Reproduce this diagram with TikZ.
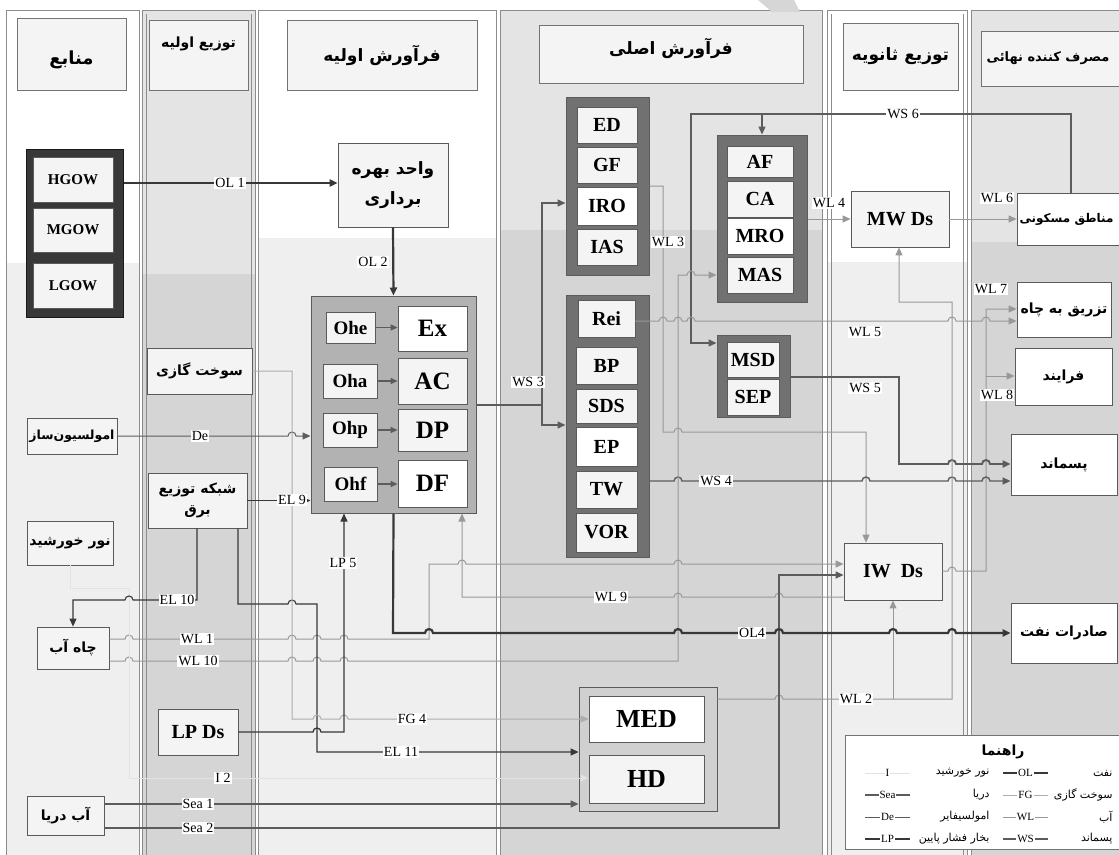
\documentclass[tikz,border=0pt]{standalone}
\usepackage{fontspec}
\setmainfont{Liberation Serif}
\newfontfamily\fafont[Script=Arabic]{DejaVu Sans}
\TeXXeTstate=1
\usepackage{tikz}
\usetikzlibrary{arrows.meta}
\definecolor{bglight}{HTML}{EFEFEF}
\definecolor{bgmid}{HTML}{E4E4E4}
\definecolor{bgdark}{HTML}{D5D5D5}
\definecolor{laneline}{HTML}{8C8C8C}
\definecolor{boxfill}{HTML}{F4F4F4}
\definecolor{boxline}{HTML}{5A5A5A}
\definecolor{grpfill}{HTML}{717171}
\definecolor{contfill}{HTML}{B2B2B2}
\definecolor{medfill}{HTML}{D0D0D0}
\definecolor{inkdark}{HTML}{383838}
\definecolor{inkmid}{HTML}{5C5C5C}
\definecolor{inkgray}{HTML}{989898}
\definecolor{inklight}{HTML}{ADADAD}
\definecolor{inkfaint}{HTML}{E2E2E2}
\newcommand{\fa}[1]{{\fafont\beginR #1\endR}}
\newcommand{\fsz}[1]{\fontsize{#1}{#1}\selectfont}
\newcommand{\hop}[2]{-- (#1-4,#2) arc[start angle=180,end angle=0,radius=4pt]}
\newcommand{\hopl}[2]{-- (#1+4,#2) arc[start angle=0,end angle=180,radius=4pt]}
\tikzset{
  box/.style={draw=boxline,fill=boxfill,line width=.8pt,inner sep=0pt,align=center},
  hdr/.style={draw=black!55,fill=boxfill,line width=.8pt,inner sep=0pt},
  grp/.style={draw=inkmid,fill=grpfill,line width=1pt,inner sep=0pt},
  sz/.style 2 args={minimum width=#1pt,minimum height=#2pt},
  lat/.style={font=\bfseries\fsz{20}},
  fab/.style={font=\bfseries\fontsize{14}{21}\selectfont},
  lbl/.style={fill=white,inner sep=1pt,font=\fsz{14}},
  legs/.style={fill=white,inner sep=1pt,font=\fsz{11}},
  tip/.style={-{Triangle[length=8pt,width=7pt]}},
  ol/.style={draw=inkdark,line width=2.2pt},
  ws/.style={draw=inkmid,line width=1.4pt},
  wsb/.style={draw=inkmid,line width=1.9pt},
  wl/.style={draw=inkgray,line width=1pt},
  fg/.style={draw=inklight,line width=1pt},
  el/.style={draw=inkdark,line width=1.1pt},
  de/.style={draw=inkmid,line width=1pt},
  sea/.style={draw=inkmid,line width=1.3pt},
  li/.style={draw=inkfaint,line width=1pt},
  lp/.style={draw=inkdark,line width=1.3pt}
}
\begin{document}
\begin{tikzpicture}[x=1pt,y=-1pt]
\useasboundingbox (0,0) rectangle (1119,854);
\clip (0,0) rectangle (1119,854);
% swim lanes
\foreach \xa/\xb/\ys/\ct/\cb in {6/139/263/white/bglight,142/255/274/bgmid/bgdark,258/496/238/white/bglight,500/822/230/bgmid/bgdark,827/967/262/white/bglight,971/1130/242/bgmid/bgdark}{
  \fill[\ct] (\xa,10) rectangle (\xb,\ys);
  \fill[\cb] (\xa,\ys) rectangle (\xb,870);
  \draw[laneline,line width=.8pt] (\xa,10) rectangle (\xb,870);
}
\draw[laneline,line width=.6pt] (146,14) -- (146,870) (251,14) -- (251,870) (831,14) -- (831,870) (963,14) -- (963,870);
\fill[black!16] (758,0) -- (794,0) -- (800,12) -- (772,12) -- cycle;
% headers
\node[hdr,sz={109}{72}] (hsrc) at (71.5,54) {};
\node[font=\bfseries\fsz{18}] (hsrct) at (71.5,60) {\fa{منابع}};
\node[hdr,sz={99}{70}] (hpri) at (198.5,55) {};
\node[font=\bfseries\fsz{14}] (hprit) at (198.5,44) {\fa{توزیع اولیه}};
\node[hdr,sz={190}{70},font=\bfseries\fsz{17}] (hpro) at (382,55) {\fa{فرآورش اولیه}};
\node[hdr,sz={264}{58}] (hmain) at (671,54) {};
\node[font=\bfseries\fsz{17}] (hmaint) at (671,48) {\fa{فرآورش اصلی}};
\node[hdr,sz={115}{67},font=\bfseries\fsz{17}] (hsec) at (900.5,56.5) {\fa{توزیع ثانویه}};
\node[hdr,sz={144}{55}] (hend) at (1053,58.5) {};
\node[font=\bfseries\fsz{13},anchor=east] (hendt) at (1113,58.5) {\fa{مصرف کننده نهائی}};
% lane 1
\node[draw=black!90,fill=black!78,line width=1pt,sz={97}{168}] (gow) at (74.5,233) {};
\node[box,sz={80}{45},font=\bfseries\fsz{15}] (hgow) at (73,179.5) {HGOW};
\node[box,sz={80}{44},font=\bfseries\fsz{15}] (mgow) at (73,230) {MGOW};
\node[box,sz={80}{45},font=\bfseries\fsz{15}] (lgow) at (73,285.5) {LGOW};
\node[box,sz={90}{36},font=\bfseries\fsz{12.5}] (emul) at (72,436) {\fa{امولسیون‌ساز}};
\node[box,sz={86}{44},fab] (sun) at (70,543) {\fa{نور خورشید}};
\node[box,sz={72}{42},fab] (well) at (73,648) {\fa{چاه آب}};
\node[box,sz={77}{39},fab] (sea) at (65.5,815.5) {\fa{آب دریا}};
% lane 2
\node[box,sz={105}{46},fab] (fuel) at (199.5,371) {\fa{سوخت گازی}};
\node[box,sz={99}{55},fab] (grid) at (197.5,500.5) {\fa{شبکه توزیع}\\\fa{برق}};
\node[box,sz={80}{46},lat] (lpds) at (198,732) {LP Ds};
% lane 3
\node[box,sz={110}{84},font=\bfseries\fontsize{17}{30}\selectfont] (unit) at (393,185) {\fa{واحد بهره}\\\fa{برداری}};
\node[draw=boxline,fill=contfill,line width=1pt,sz={165}{217}] (cont) at (393.5,404.5) {};
\node[box,sz={49}{31},font=\bfseries\fsz{19}] (ohe) at (350.5,327.5) {Ohe};
\node[box,sz={54}{34},font=\bfseries\fsz{19}] (oha) at (350,381) {Oha};
\node[box,sz={54}{34},font=\bfseries\fsz{19}] (ohp) at (350,430) {Ohp};
\node[box,sz={53}{34},font=\bfseries\fsz{19}] (ohf) at (350.5,484) {Ohf};
\node[box,fill=white,sz={69}{45},font=\bfseries\fsz{25}] (ex) at (432.5,328.5) {Ex};
\node[box,sz={69}{46},font=\bfseries\fsz{25}] (ac) at (432.5,381) {AC};
\node[box,sz={69}{42},font=\bfseries\fsz{25}] (dp) at (432.5,430) {DP};
\node[box,fill=white,sz={69}{47},font=\bfseries\fsz{25}] (df) at (432.5,483.5) {DF};
% lane 4
\node[grp,sz={83}{178}] (gone) at (607.5,186) {};
\node[box,sz={60}{36},lat] (ed) at (607,125) {ED};
\node[box,sz={60}{36},lat] (gf) at (607,165) {GF};
\node[box,fill=white,sz={60}{38},lat] (iro) at (607,206) {IRO};
\node[box,sz={60}{36},lat] (ias) at (607,247) {IAS};
\node[grp,sz={90}{167}] (gtwo) at (762,218.5) {};
\node[box,sz={66}{31},lat] (af) at (760,161.5) {AF};
\node[box,sz={66}{36},lat] (ca) at (760,199) {CA};
\node[box,fill=white,sz={66}{36},lat] (mro) at (760,236) {MRO};
\node[box,sz={66}{36},lat] (mas) at (760,275) {MAS};
\node[grp,sz={83}{262}] (gthr) at (607.5,426) {};
\node[box,sz={57}{37},lat] (rei) at (606.5,318.5) {Rei};
\node[box,sz={61}{37},lat] (bp) at (606.5,365.5) {BP};
\node[box,sz={61}{34},lat] (sds) at (606.5,406) {SDS};
\node[box,fill=white,sz={61}{39},lat] (ep) at (606.5,446.5) {EP};
\node[box,sz={61}{37},lat] (tw) at (606.5,489.5) {TW};
\node[box,sz={61}{39},lat] (vor) at (606.5,532.5) {VOR};
\node[grp,sz={73}{82}] (gfour) at (753.5,376) {};
\node[box,sz={52}{35},lat] (msd) at (753,359.5) {MSD};
\node[box,sz={52}{36},lat] (sep) at (753,397) {SEP};
\node[draw=boxline,fill=medfill,line width=.8pt,sz={138}{124}] (medc) at (648,749) {};
\node[box,fill=white,sz={115}{46},font=\bfseries\fsz{26}] (med) at (646.5,719) {MED};
\node[box,sz={115}{48},font=\bfseries\fsz{26}] (hd) at (646.5,779) {HD};
% lane 5
\node[box,sz={98}{56},lat] (mwds) at (900,219) {MW Ds};
\node[box,sz={98}{57},lat] (iwds) at (893,571.5) {IW~ Ds};
% lane 6
\node[box,fill=white,sz={113}{52}] (res) at (1073.5,219) {};
\node[font=\bfseries\fsz{12},anchor=east] (rest) at (1117,219) {\fa{مناطق مسکونی}};
\node[box,fill=white,sz={94}{55},fab] (inj) at (1064,309.5) {\fa{تزریق به چاه}};
\node[box,fill=white,sz={97}{57},fab] (proc) at (1063.5,376.5) {\fa{فرایند}};
\node[box,fill=white,sz={106}{61},fab] (waste) at (1064,464.5) {\fa{پسماند}};
\node[box,fill=white,sz={106}{60},fab] (expo) at (1064,633) {\fa{صادرات نفت}};
% connectors
\draw[ol,tip] (gow.east |- 0,183) -- (unit.west |- 0,183);
\draw[ol,tip] (unit.south) -- (cont.north);
\foreach \a/\b in {ohe/ex,oha/ac,ohp/dp,ohf/df}
  \draw[draw=inkmid,line width=1.2pt,-{Triangle[length=7pt,width=6pt]}] (\a.east) -- (\b.west |- \a.east);
\draw[ws,tip] (cont.east |- 0,405) -- (542,405) |- (gone.west |- 0,203);
\draw[ws,tip] (542,405) |- (gthr.west |- 0,425);
\draw[ws,tip] (res.north -| 1071,0) -- (1071,114) -- (691,114) -- (691,343) -- (gfour.west |- 0,343);
\draw[ws,tip] (762,114) -- (gtwo.north);
\draw[wl,tip] (gtwo.east |- 0,219) -- (mwds.west |- 0,219);
\draw[wl,tip] (mwds.east |- 0,219) -- (res.west |- 0,219);
\draw[wl,tip] (gone.east |- 0,186) -- (663,186) -- (663,432) \hop{678}{432} -- (866,432) -- (iwds.north -| 866,0);
\draw[wl,tip] (rei.east |- 0,321) \hop{663}{321}\hop{678}{321}\hop{691}{321}\hop{952}{321}\hop{986}{321} -- (inj.west |- 0,321);
\draw[wl,tip] (iwds.east |- 0,571) \hop{952}{571} -- (986,571) -- (986,309) -- (inj.west |- 0,309);
\draw[wl,tip] (986,376) -- (proc.west |- 0,376);
\draw[wsb,tip] (gfour.east |- 0,377) -- (899,377) -- (899,464) \hop{952}{464}\hop{986}{464} -- (waste.west |- 0,464);
\draw[ws,tip] (gthr.east |- 0,481) \hop{678}{481}\hop{866}{481}\hop{952}{481}\hop{986}{481} -- (waste.west |- 0,481);
\draw[wl,tip] (medc.east |- 0,699) \hop{779}{699} -- (952,699) -- (952,302) -- (899,302) -- (mwds.south -| 899,0);
\draw[wl,tip] (893,699) -- (iwds.south);
\draw[wl,tip] (well.east |- 0,639) \hop{129}{639}\hop{292}{639}\hop{317}{639}\hop{344}{639} -- (429,639) -- (429,564) \hop{462}{564}\hop{678}{564} -- (iwds.west |- 0,564);
\draw[wl,tip] (well.east |- 0,661) \hop{129}{661}\hop{292}{661}\hop{317}{661}\hop{344}{661} -- (678,661) -- (678,275) \hop{691}{275} -- (gtwo.west |- 0,275);
\draw[wl,tip] (iwds.west |- 0,597) \hopl{779}{597}\hopl{678}{597} -- (462,597) -- (cont.south -| 462,0);
\draw[sea,tip] (sea.east |- 0,828) -- (779,828) -- (779,575) -- (iwds.west |- 0,575);
\draw[sea,tip] (sea.east |- 0,804) -- (medc.west |- 0,804);
\draw[li,tip] (sun.south) -- (70,588) -- (129,588) -- (129,778) -- (hd.west |- 0,778);
\draw[el,tip] (grid.south -| 197,0) -- (197,600) \hopl{129}{600} -- (73,600) -- (well.north -| 73,0);
\draw[el,tip] (grid.south -| 238,0) -- (238,604) \hop{292}{604} -- (317,604) -- (317,752) -- (medc.west |- 0,752);
\draw[el,tip] (grid.east) -- (cont.west |- grid.east);
\draw[de,tip] (emul.east) \hop{292}{436} -- (cont.west |- emul.east);
\draw[fg,tip] (fuel.east) -- (292,371) -- (292,719) \hop{317}{719}\hop{344}{719} -- (med.west |- 0,719);
\draw[lp,tip] (lpds.east) \hop{317}{732} -- (344,732) -- (cont.south -| 344,0);
\draw[ol,tip] (cont.south) -- (393,633) \hop{429}{633}\hop{678}{633}\hop{779}{633}\hop{893}{633}\hop{952}{633} -- (expo.west |- 0,633);
% connector labels
\node[lbl] (tol1) at (230,183) {OL 1};
\node[lbl] (tol2) at (373,262) {OL 2};
\node[lbl] (tws3) at (528,382) {WS 3};
\node[lbl] (twl3) at (668,242) {WL 3};
\node[lbl] (tws6) at (903,114) {WS 6};
\node[lbl] (twl4) at (829,203) {WL 4};
\node[lbl] (twl6) at (997,198) {WL 6};
\node[lbl] (twl7) at (991,289) {WL 7};
\node[lbl] (twl5) at (865,332) {WL 5};
\node[lbl] (tws5) at (865,388) {WS 5};
\node[lbl] (twl8) at (997,395) {WL 8};
\node[lbl] (tws4) at (716,481) {WS 4};
\node[lbl] (tde) at (200,436) {De};
\node[lbl] (tel9) at (292,500) {EL 9};
\node[lbl] (tlp5) at (343,563) {LP 5};
\node[lbl] (tel10) at (177,600) {EL 10};
\node[lbl] (twl9) at (611,597) {WL 9};
\node[lbl] (tol4) at (752,633) {OL4};
\node[lbl] (twl1) at (197,639) {WL 1};
\node[lbl] (twl10) at (198,661) {WL 10};
\node[lbl] (twl2) at (856,699) {WL 2};
\node[lbl] (tfg4) at (412,719) {FG 4};
\node[lbl] (tel11) at (401,752) {EL 11};
\node[lbl] (ti2) at (223,778) {I 2};
\node[lbl] (tsea1) at (198,804) {Sea 1};
\node[lbl] (tsea2) at (198,828) {Sea 2};
% legend
\node[draw=black!55,fill=white,line width=.8pt,sz={285}{114}] (leg) at (987.5,792) {};
\node[font=\bfseries\fsz{14}] (legt) at (1003,752) {\fa{راهنما}};
\foreach \yy/\ca/\ta/\na/\cb/\tb/\nb in {773/li/I/نور خورشید/ol/OL/نفت,795/sea/Sea/دریا/fg/FG/سوخت گازی,817/de/De/امولسیفایر/wl/WL/آب,839/lp/LP/بخار فشار پایین/ws/WS/پسماند}{
  \draw[\ca] (865,\yy) -- node[legs]{\ta} (910,\yy);
  \node[font=\fsz{11},anchor=east] (lna\yy) at (993,\yy) {\fa{\na}};
  \draw[\cb] (1003,\yy) -- node[legs]{\tb} (1048,\yy);
  \node[font=\fsz{11},anchor=east] (lnb\yy) at (1116,\yy) {\fa{\nb}};
}
\end{tikzpicture}
\end{document}
